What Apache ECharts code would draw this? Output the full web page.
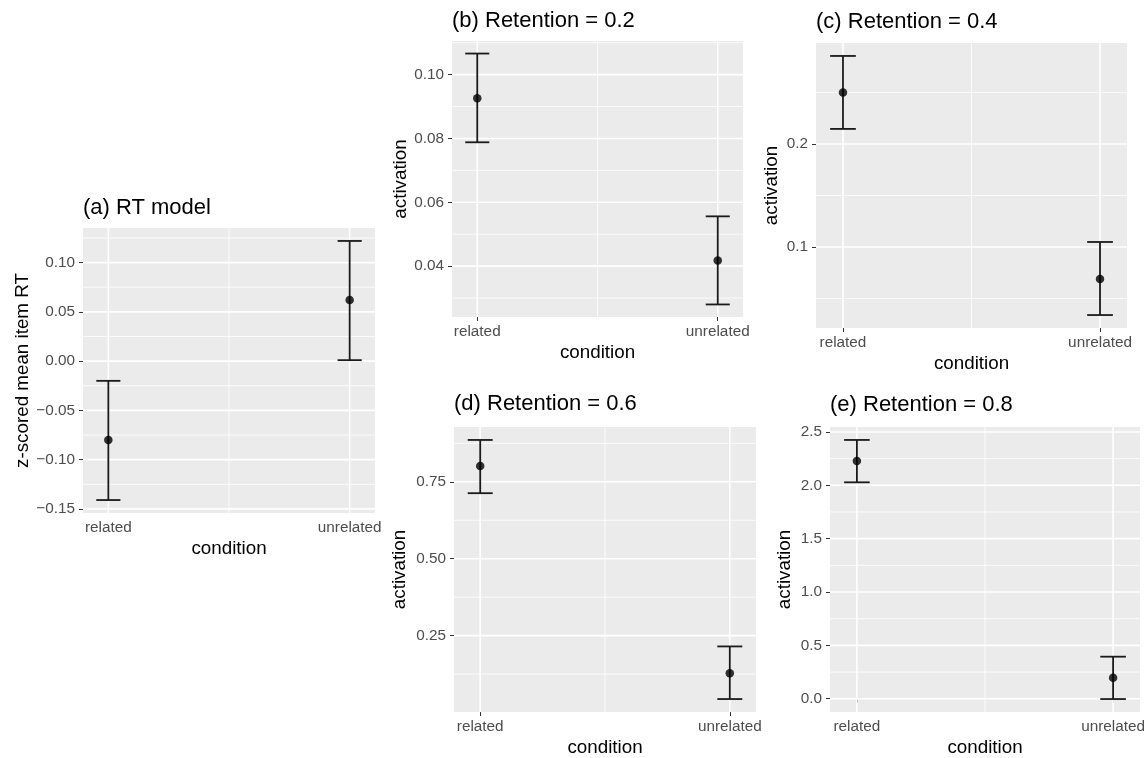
<!DOCTYPE html>
<html>
<head>
<meta charset="utf-8">
<script src="https://cdn.jsdelivr.net/npm/echarts@6/dist/echarts.min.js"></script>
<style>
html,body{margin:0;padding:0;background:#fff;}
#chart{width:1148px;height:758px;}
</style>
</head>
<body>
<div id="chart"></div>
<script>
// ---- data ----
const categories = ['related', 'unrelated'];
const titles = ['(a) RT model', '(b) Retention = 0.2', '(c) Retention = 0.4', '(d) Retention = 0.6', '(e) Retention = 0.8'];
const yNames = ['z-scored mean item RT', 'activation', 'activation', 'activation', 'activation'];
const xName = 'condition';

const aMean = [-0.080, 0.062];
const aLow  = [-0.141, 0.001];
const aHigh = [-0.020, 0.122];
const bMean = [0.0926, 0.0418];
const bLow  = [0.0788, 0.0280];
const bHigh = [0.1066, 0.0556];
const cMean = [0.250, 0.069];
const cLow  = [0.2146, 0.034];
const cHigh = [0.2854, 0.1049];
const dMean = [0.801, 0.128];
const dLow  = [0.713, 0.044];
const dHigh = [0.886, 0.215];
const eMean = [2.228, 0.197];
const eLow  = [2.028, -0.003];
const eHigh = [2.425, 0.394];

const aTicks = [-0.15, -0.10, -0.05, 0, 0.05, 0.10];
const aTickLabels = ['\u22120.15', '\u22120.10', '\u22120.05', '0.00', '0.05', '0.10'];
const bTicks = [0.04, 0.06, 0.08, 0.10];
const bTickLabels = ['0.04', '0.06', '0.08', '0.10'];
const cTicks = [0.1, 0.2];
const cTickLabels = ['0.1', '0.2'];
const dTicks = [0.25, 0.50, 0.75];
const dTickLabels = ['0.25', '0.50', '0.75'];
const eTicks = [0, 0.5, 1.0, 1.5, 2.0, 2.5];
const eTickLabels = ['0.0', '0.5', '1.0', '1.5', '2.0', '2.5'];

// ---- layout / style ----
const FONT = '"Liberation Sans", Arial, Helvetica, sans-serif';
const panels = [
  {mean: aMean, low: aLow, high: aHigh, ticks: aTicks, labels: aTickLabels,
   grid: {left: 83, top: 228, width: 292, height: 285}, yGap: 50, title: {left: 83, top: 196}},
  {mean: bMean, low: bLow, high: bHigh, ticks: bTicks, labels: bTickLabels,
   grid: {left: 452, top: 41, width: 291, height: 276}, yGap: 42, title: {left: 452, top: 9}},
  {mean: cMean, low: cLow, high: cHigh, ticks: cTicks, labels: cTickLabels,
   grid: {left: 816, top: 43, width: 311, height: 285}, yGap: 35, title: {left: 816, top: 10}},
  {mean: dMean, low: dLow, high: dHigh, ticks: dTicks, labels: dTickLabels,
   grid: {left: 454, top: 427, width: 302, height: 285}, yGap: 45, title: {left: 454, top: 392}},
  {mean: eMean, low: eLow, high: eHigh, ticks: eTicks, labels: eTickLabels,
   grid: {left: 830, top: 427, width: 310, height: 285}, yGap: 36, title: {left: 830, top: 393}}
];

const X_MIN = 0.895, X_MAX = 2.105, CAP = 0.05;
const xPos = categories.map((c, i) => i + 1);
const xMinor = [1.5];

const option = {
  animation: false,
  backgroundColor: '#ffffff',
  title: [], grid: [], xAxis: [], yAxis: [], series: []
};

panels.forEach((p, k) => {
  const lo = Math.min(...p.low), hi = Math.max(...p.high);
  const pad = (hi - lo) * 0.05;
  const yMin = lo - pad, yMax = hi + pad;
  const step = p.ticks[1] - p.ticks[0];
  const minors = [];
  for (let i = -1; i < p.ticks.length; i++) {
    const v = p.ticks[0] + (i + 0.5) * step;
    if (v > yMin && v < yMax) minors.push(v);
  }

  option.title.push({
    text: titles[k], left: p.title.left, top: p.title.top, padding: 0,
    textStyle: {fontFamily: FONT, fontSize: 22, fontWeight: 'normal', color: '#000', lineHeight: 24}
  });
  option.grid.push(Object.assign({show: true, backgroundColor: '#EBEBEB', borderWidth: 0,
    containLabel: false, outerBoundsMode: 'none'}, p.grid));
  option.xAxis.push({
    type: 'value', gridIndex: k, min: X_MIN, max: X_MAX,
    name: xName, nameLocation: 'middle', nameGap: 26,
    nameTextStyle: {fontFamily: FONT, fontSize: 18.8, color: '#000'},
    axisLine: {show: false},
    splitLine: {show: false},
    axisTick: {show: true, customValues: xPos, length: 4, lineStyle: {color: '#333333', width: 1}},
    axisLabel: {show: true, customValues: xPos, margin: 7, hideOverlap: false,
      fontFamily: FONT, fontSize: 15.3, color: '#4D4D4D',
      formatter: v => categories[Math.round(v) - 1] || ''}
  });
  option.yAxis.push({
    type: 'value', gridIndex: k, min: yMin, max: yMax,
    name: yNames[k], nameLocation: 'middle', nameGap: p.yGap, nameRotate: 90,
    nameTextStyle: {fontFamily: FONT, fontSize: 18.8, color: '#000'},
    axisLine: {show: false},
    splitLine: {show: false},
    axisTick: {show: true, customValues: p.ticks, length: 4, lineStyle: {color: '#333333', width: 1}},
    axisLabel: {show: true, customValues: p.ticks, margin: 8, hideOverlap: false,
      fontFamily: FONT, fontSize: 15.3, color: '#4D4D4D',
      formatter: v => {
        const i = p.ticks.findIndex(t => Math.abs(t - v) < 1e-9);
        return i >= 0 ? p.labels[i] : '';
      }}
  });

  const hLine = (w) => (params, api) => {
    const cs = params.coordSys;
    const y = api.coord([1, api.value(1)])[1];
    return {type: 'line', shape: {x1: cs.x, y1: y, x2: cs.x + cs.width, y2: y},
      style: {stroke: '#ffffff', lineWidth: w}, silent: true};
  };
  const vLine = (w) => (params, api) => {
    const cs = params.coordSys;
    const x = api.coord([api.value(0), yMin])[0];
    return {type: 'line', shape: {x1: x, y1: cs.y, x2: x, y2: cs.y + cs.height},
      style: {stroke: '#ffffff', lineWidth: w}, silent: true};
  };
  const midY = (yMin + yMax) / 2;
  option.series.push(
    {type: 'custom', xAxisIndex: k, yAxisIndex: k, z: 1, silent: true, clip: true,
     data: minors.map(v => [1, v]), renderItem: hLine(0.8)},
    {type: 'custom', xAxisIndex: k, yAxisIndex: k, z: 1, silent: true, clip: true,
     data: p.ticks.map(v => [1, v]), renderItem: hLine(1.6)},
    {type: 'custom', xAxisIndex: k, yAxisIndex: k, z: 1, silent: true, clip: true,
     data: xMinor.map(v => [v, midY]), renderItem: vLine(0.8)},
    {type: 'custom', xAxisIndex: k, yAxisIndex: k, z: 1, silent: true, clip: true,
     data: xPos.map(v => [v, midY]), renderItem: vLine(1.6)},
    {type: 'custom', xAxisIndex: k, yAxisIndex: k, z: 3, silent: true,
     data: categories.map((c, i) => [xPos[i], p.low[i], p.high[i]]),
     encode: {x: 0, y: [1, 2]},
     renderItem: (params, api) => {
       const x = api.value(0), l = api.value(1), h = api.value(2);
       const pl = api.coord([x, l]), ph = api.coord([x, h]);
       const cl = api.coord([x - CAP, l]), cr = api.coord([x + CAP, l]);
       const tl = api.coord([x - CAP, h]), tr = api.coord([x + CAP, h]);
       const st = {stroke: '#1a1a1a', lineWidth: 1.8};
       return {type: 'group', children: [
         {type: 'line', shape: {x1: pl[0], y1: pl[1], x2: ph[0], y2: ph[1]}, style: st},
         {type: 'line', shape: {x1: cl[0], y1: cl[1], x2: cr[0], y2: cr[1]}, style: st},
         {type: 'line', shape: {x1: tl[0], y1: tl[1], x2: tr[0], y2: tr[1]}, style: st}
       ]};
     }},
    {type: 'scatter', xAxisIndex: k, yAxisIndex: k, z: 4, silent: true,
     symbol: 'circle', symbolSize: 8.5, itemStyle: {color: '#000000'},
     data: categories.map((c, i) => [xPos[i], p.mean[i]])}
  );
});

const chart = echarts.init(document.getElementById('chart'), null, {renderer: 'canvas'});
chart.setOption(option);
</script>
</body>
</html>
